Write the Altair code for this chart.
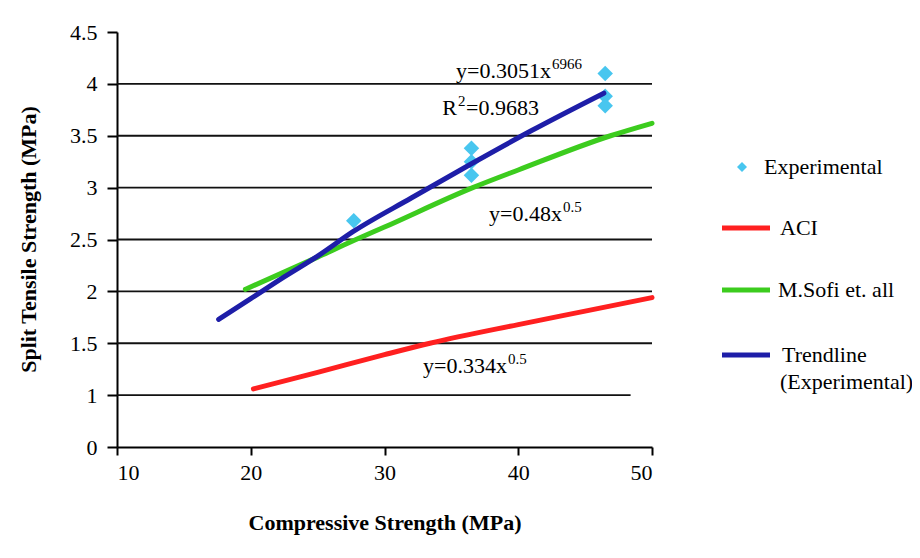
import altair as alt
import pandas as pd

# ---- data ----
exp_x = [27.7, 36.5, 36.5, 36.5, 46.5, 46.5, 46.5]
exp_y = [2.68, 3.38, 3.25, 3.12, 4.10, 3.88, 3.79]

trend_x = [17.6, 20.0, 22.5, 25.0, 27.7, 32.0, 36.5, 41.0, 46.4]
trend_y = [1.73, 1.93, 2.14, 2.34, 2.58, 2.90, 3.23, 3.55, 3.91]

sofi_x = [19.6, 25.0, 27.7, 30.0, 36.6, 40.0, 46.9, 50.0]
sofi_y = [2.02, 2.33, 2.49, 2.62, 3.00, 3.17, 3.50, 3.62]

aci_x = [20.2, 25.0, 30.0, 33.4, 40.0, 45.0, 50.0]
aci_y = [1.06, 1.22, 1.39, 1.50, 1.68, 1.81, 1.94]

grid_y = [1, 1.5, 2, 2.5, 3, 3.5, 4]
grid_x_start = [10, 10, 10, 10, 10, 10, 10]
grid_x_end = [48.4, 50, 50, 50, 50, 50, 50]

x_ticks = [10, 20, 30, 40, 50]
y_ticks = [0.5, 1, 1.5, 2, 2.5, 3, 3.5, 4, 4.5]

# annotation: main text (right-aligned at anchor) + superscript (left-aligned at anchor)
ann_main = ["y=0.3051x", "y=0.48x", "y=0.334x", "R"]
ann_sup = ["6966", "0.5", "0.5", "2"]
ann_x = [42.45, 43.27, 39.16, 35.42]
ann_y = [4.06, 2.68, 1.21, 3.70]
r2_rest = "=0.9683"

legend_names = ["Experimental", "ACI", "M.Sofi et. all", "Trendline"]
legend_colors = ["#48c6ef", "#ff2020", "#3ccc1e", "#1e1ea8"]

FONT = "Liberation Serif"

exp_df = pd.DataFrame({"x": exp_x, "y": exp_y})
trend_df = pd.DataFrame({"x": trend_x, "y": trend_y})
sofi_df = pd.DataFrame({"x": sofi_x, "y": sofi_y})
aci_df = pd.DataFrame({"x": aci_x, "y": aci_y})
grid_df = pd.DataFrame({"y": grid_y, "x": grid_x_start, "x2": grid_x_end})
ann_df = pd.DataFrame({"x": ann_x, "y": ann_y, "main": ann_main, "sup": ann_sup})
r2_df = pd.DataFrame({"x": [ann_x[3]], "y": [ann_y[3]], "t": [r2_rest]})

xscale = alt.Scale(domain=[10, 50], nice=False, zero=False)
yscale = alt.Scale(domain=[0.5, 4.5], nice=False, zero=False)

xaxis = alt.Axis(
    values=x_ticks, grid=False, title="Compressive Strength (MPa)",
    domainColor="black", domainWidth=2, tickColor="black", tickWidth=2, tickSize=8,
    labelFont=FONT, labelFontSize=22, labelColor="black", labelPadding=7,
    titleFont=FONT, titleFontSize=22, titleFontWeight="bold", titleColor="black",
    titleY=75, titleBaseline="middle",
)
yaxis = alt.Axis(
    values=y_ticks, grid=False, title="Split Tensile Strength (MPa)",
    labelExpr="datum.value == 0.5 ? '0' : toString(datum.value)",
    domainColor="black", domainWidth=2, tickColor="black", tickWidth=2, tickSize=10,
    labelFont=FONT, labelFontSize=22, labelColor="black", labelPadding=10,
    titleFont=FONT, titleFontSize=22, titleFontWeight="bold", titleColor="black",
    titleX=-89, titleY=207, titleBaseline="middle", titleAlign="center",
)

grid = alt.Chart(grid_df).mark_rule(color="#111111", strokeWidth=1.8).encode(
    x=alt.X("x:Q", scale=xscale, axis=xaxis),
    x2="x2:Q",
    y=alt.Y("y:Q", scale=yscale, axis=yaxis),
)

def line(df, color):
    return alt.Chart(df).mark_line(color=color, strokeWidth=5, strokeCap="round",
                                   interpolate="monotone").encode(
        x=alt.X("x:Q", scale=xscale), y=alt.Y("y:Q", scale=yscale))

green = line(sofi_df, legend_colors[2])
red = line(aci_df, legend_colors[1])
blue = line(trend_df, legend_colors[3])

points = alt.Chart(exp_df).mark_point(shape="diamond", filled=True, size=240,
                                      color=legend_colors[0], opacity=1).encode(
    x=alt.X("x:Q", scale=xscale), y=alt.Y("y:Q", scale=yscale))

main_txt = alt.Chart(ann_df).mark_text(align="right", baseline="alphabetic", font=FONT,
                                       fontSize=22, color="black").encode(
    x=alt.X("x:Q", scale=xscale), y=alt.Y("y:Q", scale=yscale), text="main:N")
sup_txt = alt.Chart(ann_df).mark_text(align="left", baseline="alphabetic", font=FONT,
                                      fontSize=15, color="black", dx=1, dy=-9).encode(
    x=alt.X("x:Q", scale=xscale), y=alt.Y("y:Q", scale=yscale), text="sup:N")
r2_txt = alt.Chart(r2_df).mark_text(align="left", baseline="alphabetic", font=FONT,
                                    fontSize=22, color="black", dx=9).encode(
    x=alt.X("x:Q", scale=xscale), y=alt.Y("y:Q", scale=yscale), text="t:N")

# ---- manual legend ----
one = pd.DataFrame({"a": [0]})
leg_layers = []
leg_layers.append(alt.Chart(one).mark_point(shape="diamond", filled=True, size=100,
                                            color=legend_colors[0], opacity=1).encode(
    x=alt.value(625), y=alt.value(135)))
leg_text_pos = [(647, 135), (663, 196), (661, 258), (665, 323)]
leg_line_y = [None, 196, 258, 323]
for i, name in enumerate(legend_names):
    if leg_line_y[i] is not None:
        leg_layers.append(alt.Chart(one).mark_rule(color=legend_colors[i], strokeWidth=5).encode(
            x=alt.value(605), x2=alt.value(653), y=alt.value(leg_line_y[i])))
    tx, ty = leg_text_pos[i]
    leg_layers.append(alt.Chart(one).mark_text(align="left", baseline="middle", font=FONT,
                                               fontSize=22, color="black").encode(
        x=alt.value(tx), y=alt.value(ty), text=alt.value(name)))
leg_layers.append(alt.Chart(one).mark_text(align="left", baseline="middle", font=FONT,
                                           fontSize=22, color="black").encode(
    x=alt.value(663), y=alt.value(350), text=alt.value("(Experimental)")))

chart = alt.layer(grid, green, red, points, blue, main_txt, sup_txt, r2_txt, *leg_layers).properties(
    width=535, height=415,
    padding={"left": 109, "top": 24, "right": 260, "bottom": 103},
    autosize=alt.AutoSizeParams(type="none"),
    background="white",
).configure_view(stroke=None)

chart.save("out.html", embed_options={"renderer": "svg", "actions": False})
